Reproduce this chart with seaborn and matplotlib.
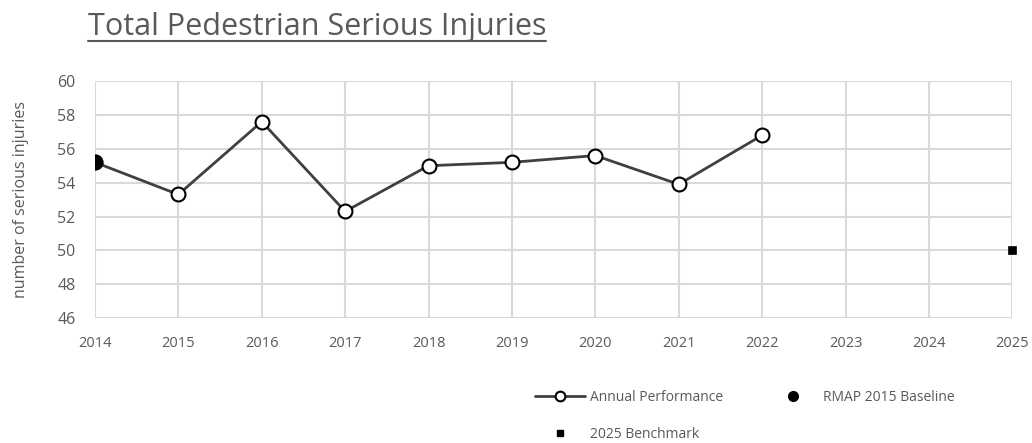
import matplotlib
matplotlib.use("Agg")
import matplotlib.pyplot as plt
import seaborn as sns
import pandas as pd
from matplotlib.lines import Line2D

# data
years = [2014, 2015, 2016, 2017, 2018, 2019, 2020, 2021, 2022]
annual = [55.2, 53.3, 57.6, 52.3, 55.0, 55.2, 55.6, 53.9, 56.8]
baseline_year = [2014]
baseline_value = [55.2]
benchmark_year = [2025]
benchmark_value = [50]
x_ticks = list(range(2014, 2026))
y_ticks = list(range(46, 61, 2))

sns.set_style("white")
plt.rcParams['font.family'] = ['Open Sans', 'DejaVu Sans']
grey_text = "#595959"

fig = plt.figure(figsize=(10.32, 4.43), dpi=100)
ax = fig.add_axes([0.092, 0.282, 0.889, 0.535])

df = pd.DataFrame({"year": years, "value": annual})
sns.lineplot(data=df, x="year", y="value", ax=ax, color="#404040", linewidth=2,
             marker="o", markersize=10, markerfacecolor="white",
             markeredgecolor="black", markeredgewidth=1.5, zorder=3)
sns.scatterplot(x=baseline_year, y=baseline_value, ax=ax, color="black",
                s=110, marker="o", edgecolor="black", zorder=4)
sns.scatterplot(x=benchmark_year, y=benchmark_value, ax=ax, color="black",
                s=36, marker="s", edgecolor="black", zorder=4, clip_on=False)

ax.set_xlim(2014, 2025)
ax.set_ylim(46, 60)
ax.set_xticks(x_ticks)
ax.set_yticks(y_ticks)
ax.grid(True, color="#d9d9d9", linewidth=1.5)
ax.set_axisbelow(True)
for s in ax.spines.values():
    s.set_visible(False)
ax.tick_params(axis="x", length=0, labelsize=10.5, colors=grey_text, pad=13)
ax.tick_params(axis="y", length=0, labelsize=11.5, colors=grey_text, pad=14)
ax.set_xlabel("")
ax.set_ylabel("number of serious injuries", fontsize=11.5, color=grey_text, labelpad=20)

# title with underline
title = fig.text(0.085, 0.921, "Total Pedestrian Serious Injuries", fontsize=22,
                 color=grey_text, ha="left", va="baseline")
fig.canvas.draw()
bb = title.get_window_extent().transformed(fig.transFigure.inverted())
fig.add_artist(Line2D([bb.x0, bb.x1], [0.908, 0.908], color=grey_text,
                      linewidth=1.5, transform=fig.transFigure))

# legend
h_annual = Line2D([], [], color="#404040", linewidth=2, marker="o", markersize=7,
                  markerfacecolor="white", markeredgecolor="black", markeredgewidth=1.5)
h_base = Line2D([], [], linestyle="none", marker="o", markersize=7, color="black")
h_bench = Line2D([], [], linestyle="none", marker="s", markersize=5, color="black")
leg = fig.legend([h_annual, h_bench, h_base],
                 ["Annual Performance", "2025 Benchmark", "RMAP 2015 Baseline"],
                 ncol=2, loc="upper left", bbox_to_anchor=(0.506, 0.148),
                 frameon=False, fontsize=10, handlelength=3.6, columnspacing=3.2,
                 labelspacing=1.6, handletextpad=0.4)
for t in leg.get_texts():
    t.set_color(grey_text)

fig.savefig("out.png", dpi=100)
